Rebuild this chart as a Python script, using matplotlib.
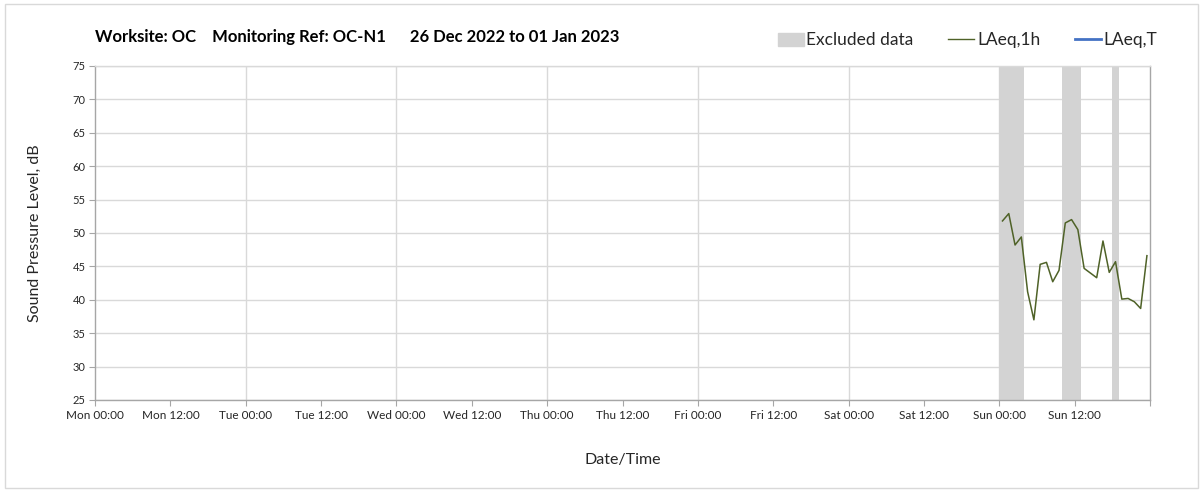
import matplotlib.pyplot as plt
import matplotlib.patches as mpatches
from matplotlib.lines import Line2D

plt.rcParams["font.family"] = ["Lato", "DejaVu Sans"]

# hours since Mon 00:00 (value plotted mid-hour)
hours = [144.5 + i for i in range(24)]
laeq_1h = [51.8, 52.9, 48.2, 49.4, 41.2, 37.0, 45.3, 45.6, 42.7, 44.4,
           51.5, 52.0, 50.5, 44.7, 44.0, 43.3, 48.8, 44.1, 45.7, 40.1,
           40.2, 39.7, 38.7, 46.6]

# excluded periods (start hour, end hour)
excluded = [(144, 148), (154, 157), (162, 163)]

tick_hours = list(range(0, 168, 12))
tick_labels = ["Mon 00:00", "Mon 12:00", "Tue 00:00", "Tue 12:00",
               "Wed 00:00", "Wed 12:00", "Thu 00:00", "Thu 12:00",
               "Fri 00:00", "Fri 12:00", "Sat 00:00", "Sat 12:00",
               "Sun 00:00", "Sun 12:00"]
grid_hours = list(range(24, 168, 24))

GRIS = "#a6a6a6"
GRILLE = "#d9d9d9"
VERT = "#4f6228"
BLEU = "#4472c4"
OMBRE = "#d3d3d3"
TEXTE = "#262626"

fig = plt.figure(figsize=(12.03, 4.92), dpi=100)
fig.patches.append(mpatches.Rectangle((0.004, 0.008), 0.992, 0.984,
                                      transform=fig.transFigure, fill=False,
                                      edgecolor="#d9d9d9", linewidth=1))
ax = fig.add_axes([0.079, 0.187, 0.877, 0.679])

for a, b in excluded:
    ax.axvspan(a, b, color=OMBRE, linewidth=0, zorder=1)

for h in grid_hours:
    ax.axvline(h, color=GRILLE, linewidth=1, zorder=0)
ax.set_yticks(range(25, 80, 5))
ax.yaxis.grid(True, color=GRILLE, linewidth=1, zorder=0)
ax.set_axisbelow(True)

ax.plot(hours, laeq_1h, color=VERT, linewidth=1.1, zorder=3)

ax.set_xlim(0, 168)
ax.set_ylim(25, 75)
ax.set_xticks(tick_hours + [168])
ax.set_xticklabels(tick_labels + [""])
ax.tick_params(axis="x", labelsize=8.5, colors=GRIS, labelcolor=TEXTE,
               length=4, pad=3)
ax.tick_params(axis="y", labelsize=8, colors=GRIS, labelcolor=TEXTE,
               length=4, pad=3)
for spine in ax.spines.values():
    spine.set_edgecolor(GRIS)
    spine.set_linewidth(1)
ax.spines["top"].set_edgecolor(GRILLE)

ax.set_ylabel("Sound Pressure Level, dB", fontsize=11.5, color=TEXTE,
              labelpad=22)
ax.set_xlabel("Date/Time", fontsize=11.5, color=TEXTE, labelpad=23)

fig.text(0.079, 0.925, "Worksite: OC    Monitoring Ref: OC-N1      26 Dec 2022 to 01 Jan 2023",
         fontsize=12, fontweight="bold", color="black", va="center")

legende = [
    mpatches.Patch(color=OMBRE, label="Excluded data"),
    Line2D([], [], color=VERT, linewidth=1, label="LAeq,1h"),
    Line2D([], [], color=BLEU, linewidth=2, label="LAeq,T"),
]
fig.legend(handles=legende, loc="center right", ncol=3,
           bbox_to_anchor=(0.962, 0.918), frameon=False, fontsize=12.5,
           handlelength=1.5, handletextpad=0.15, columnspacing=2.0,
           handleheight=0.8, borderpad=0, borderaxespad=0,
           labelcolor=TEXTE)

fig.savefig("out.png", dpi=100)
